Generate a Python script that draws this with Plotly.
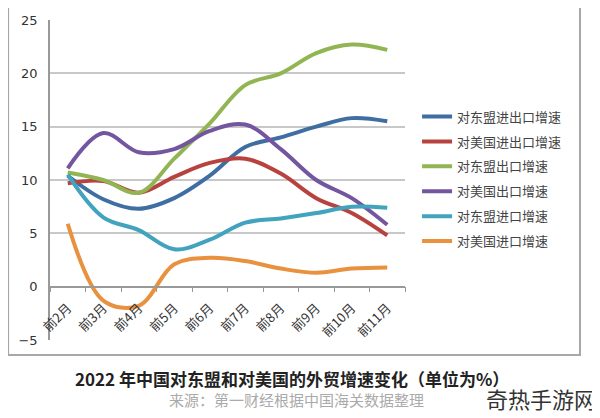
import plotly.graph_objects as go

categories = ["前2月", "前3月", "前4月", "前5月", "前6月", "前7月", "前8月", "前9月", "前10月", "前11月"]
asean_total = [10.4, 8.2, 7.3, 8.3, 10.4, 13.1, 14.0, 15.0, 15.8, 15.5]
us_total = [9.7, 9.9, 8.8, 10.3, 11.6, 12.0, 10.6, 8.3, 6.9, 4.8]
asean_export = [10.7, 10.0, 8.8, 12.0, 15.3, 18.9, 20.0, 21.9, 22.7, 22.2]
us_export = [11.1, 14.4, 12.6, 12.9, 14.6, 15.2, 12.9, 10.0, 8.3, 5.8]
asean_import = [10.5, 6.5, 5.3, 3.5, 4.4, 6.0, 6.4, 6.9, 7.5, 7.4]
us_import = [5.9, -1.3, -1.8, 2.1, 2.7, 2.4, 1.7, 1.3, 1.7, 1.8]

names = ["对东盟进出口增速", "对美国进出口增速", "对东盟出口增速", "对美国出口增速", "对东盟进口增速", "对美国进口增速"]
series = [asean_total, us_total, asean_export, us_export, asean_import, us_import]
colors = ["#3F6EA3", "#B8423E", "#92B553", "#7456A0", "#41A3BD", "#E8913F"]
y_ticks = [-5, 0, 5, 10, 15, 20, 25]

fig = go.Figure()
for i, (n, s, c) in enumerate(zip(names, series, colors)):
    fig.add_trace(go.Scatter(
        x=categories, y=s, name=n, mode="lines",
        line=dict(color=c, width=4, shape="spline", smoothing=1.0),
        legendgroup=str(i),
    ))

font_cjk = "Noto Sans CJK SC, sans-serif"

# page body has an 8px default margin; figure is sized to fit the 600x418 window
fig.update_layout(
    width=592, height=410,
    margin=dict(l=42, r=195, t=12, b=78, autoexpand=False),
    paper_bgcolor="white", plot_bgcolor="white",
    showlegend=True,
    legend=dict(
        x=1.034, y=0.745, xanchor="left", yanchor="top",
        font=dict(family=font_cjk, size=13, color="#444"),
        traceorder="grouped", tracegroupgap=5,
        bgcolor="rgba(0,0,0,0)",
    ),
    xaxis=dict(
        type="category", anchor="free", position=5 / 30, automargin=False,
        showgrid=False, showline=True, linecolor="#999", linewidth=1.5,
        ticks="outside", tickson="boundaries", ticklen=5, tickcolor="#999",
        tickangle=-45, tickfont=dict(family=font_cjk, size=13, color="#333"),
        ticklabelstandoff=8,
        range=[-0.5, 9.5],
    ),
    yaxis=dict(
        range=[-5, 25], tickvals=y_ticks, showgrid=True, gridcolor="#C8C8C8", gridwidth=1.5,
        zeroline=False, showline=True, linecolor="#999", linewidth=1.5, automargin=False,
        tickfont=dict(family="DejaVu Sans, sans-serif", size=13, color="#333"),
        ticks="", ticklabelstandoff=8,
    ),
    shapes=[dict(type="rect", xref="paper", yref="paper",
                 x0=-0.118, x1=1.493, y0=-0.047, y1=1.047,
                 line=dict(color="#A8A8A8", width=2), layer="below")],
    annotations=[
        dict(text="<b>2022 年中国对东盟和对美国的外贸增速变化（单位为%）</b>", xref="paper", yref="paper",
             x=(292 - 50) / 355, y=(340 - 378) / 320, xanchor="center", yanchor="middle",
             showarrow=False, font=dict(family=font_cjk, size=17, color="#222")),
        dict(text="来源：第一财经根据中国海关数据整理", xref="paper", yref="paper",
             x=(296 - 50) / 355, y=(340 - 399) / 320, xanchor="center", yanchor="middle",
             showarrow=False, font=dict(family=font_cjk, size=15, color="#AAAAAA")),
        dict(text="奇热手游网", xref="paper", yref="paper",
             x=(598 - 50) / 355, y=(340 - 398) / 320, xanchor="right", yanchor="middle",
             showarrow=False, font=dict(family=font_cjk, size=22, color="#333")),
    ],
)

fig.write_html("out.html")
